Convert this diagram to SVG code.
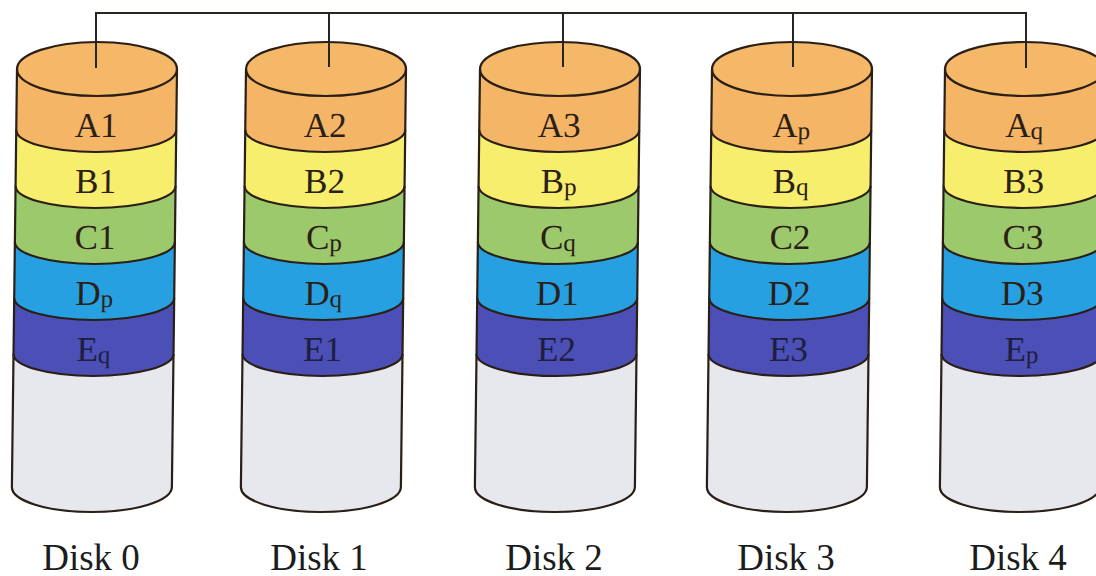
<svg xmlns="http://www.w3.org/2000/svg" xmlns:xlink="http://www.w3.org/1999/xlink" width="1096" height="576" viewBox="0 0 1096 576">
  <style>
    .edge { fill: none; stroke: #2a1f16; stroke-width: 2.2; stroke-linejoin: round; }
    .wire { fill: none; stroke: #2a2420; stroke-width: 2; }
    .lbl { font-family: "Liberation Serif", "Times New Roman", serif; font-size: 35px; fill: #2b2016; text-anchor: middle; }
    .lbl.dark { fill: #1e1e40; }
    .sub { font-size: 25px; }
    .name { font-family: "Liberation Serif", "Times New Roman", serif; font-size: 37px; fill: #1c1c1c; text-anchor: middle; }
  </style>
  <defs>
    <!-- one striped cylinder, origin at the centre of the top face -->
    <g id="cyl">
      <!-- bands, drawn bottom-up so each one overlaps the next -->
      <path d="M-80,285 L-80,418 A80,25 0 0 0 80,418 L80,285 Z" fill="#e7e7ee"/>
      <path d="M-80,229 L-80,285 A80,22 0 0 0 80,285 L80,229 Z" fill="#4b4fb6"/>
      <path d="M-80,173 L-80,229 A80,22 0 0 0 80,229 L80,173 Z" fill="#27a0e2"/>
      <path d="M-80,117 L-80,173 A80,22 0 0 0 80,173 L80,117 Z" fill="#9bc96c"/>
      <path d="M-80,61 L-80,117 A80,22 0 0 0 80,117 L80,61 Z" fill="#f6ee6c"/>
      <path d="M-80,0 L-80,61 A80,22 0 0 0 80,61 L80,0 Z" fill="#f4b566"/>
      <ellipse cx="0" cy="0" rx="80" ry="27" fill="#f5b768"/>
      <!-- band boundaries -->
      <path class="edge" d="M-80,61 A80,22 0 0 0 80,61"/>
      <path class="edge" d="M-80,117 A80,22 0 0 0 80,117"/>
      <path class="edge" d="M-80,173 A80,22 0 0 0 80,173"/>
      <path class="edge" d="M-80,229 A80,22 0 0 0 80,229"/>
      <path class="edge" d="M-80,285 A80,22 0 0 0 80,285"/>
      <!-- outline -->
      <path class="edge" d="M-80,0 L-80,418 A80,25 0 0 0 80,418 L80,0"/>
      <ellipse class="edge" cx="0" cy="0" rx="80" ry="27"/>
    </g>
  </defs>

  <rect width="1096" height="576" fill="#ffffff"/>

  <g id="disk0">
    <g transform="translate(97,69) skewX(-0.7)">
      <use xlink:href="#cyl" href="#cyl"/>
      <text class="lbl" x="0" y="68">A1</text>
      <text class="lbl" x="0" y="124">B1</text>
      <text class="lbl" x="0" y="180">C1</text>
      <text class="lbl" x="0" y="236">D<tspan class="sub" dy="2">p</tspan></text>
      <text class="lbl dark" x="0" y="292">E<tspan class="sub" dy="2">q</tspan></text>
    </g>
    <text class="name" x="91" y="570">Disk 0</text>
  </g>

  <g id="disk1">
    <g transform="translate(326,69) skewX(-0.7)">
      <use xlink:href="#cyl" href="#cyl"/>
      <text class="lbl" x="0" y="68">A2</text>
      <text class="lbl" x="0" y="124">B2</text>
      <text class="lbl" x="0" y="180">C<tspan class="sub" dy="2">p</tspan></text>
      <text class="lbl" x="0" y="236">D<tspan class="sub" dy="2">q</tspan></text>
      <text class="lbl dark" x="0" y="292">E1</text>
    </g>
    <text class="name" x="319" y="570">Disk 1</text>
  </g>

  <g id="disk2">
    <g transform="translate(560,69) skewX(-0.7)">
      <use xlink:href="#cyl" href="#cyl"/>
      <text class="lbl" x="0" y="68">A3</text>
      <text class="lbl" x="0" y="124">B<tspan class="sub" dy="2">p</tspan></text>
      <text class="lbl" x="0" y="180">C<tspan class="sub" dy="2">q</tspan></text>
      <text class="lbl" x="0" y="236">D1</text>
      <text class="lbl dark" x="0" y="292">E2</text>
    </g>
    <text class="name" x="554" y="570">Disk 2</text>
  </g>

  <g id="disk3">
    <g transform="translate(792,69) skewX(-0.7)">
      <use xlink:href="#cyl" href="#cyl"/>
      <text class="lbl" x="0" y="68">A<tspan class="sub" dy="2">p</tspan></text>
      <text class="lbl" x="0" y="124">B<tspan class="sub" dy="2">q</tspan></text>
      <text class="lbl" x="0" y="180">C2</text>
      <text class="lbl" x="0" y="236">D2</text>
      <text class="lbl dark" x="0" y="292">E3</text>
    </g>
    <text class="name" x="786" y="570">Disk 3</text>
  </g>

  <g id="disk4">
    <g transform="translate(1025,69) skewX(-0.7)">
      <use xlink:href="#cyl" href="#cyl"/>
      <text class="lbl" x="0" y="68">A<tspan class="sub" dy="2">q</tspan></text>
      <text class="lbl" x="0" y="124">B3</text>
      <text class="lbl" x="0" y="180">C3</text>
      <text class="lbl" x="0" y="236">D3</text>
      <text class="lbl dark" x="0" y="292">E<tspan class="sub" dy="2">p</tspan></text>
    </g>
    <text class="name" x="1018" y="570">Disk 4</text>
  </g>

  <!-- shared bus to every disk -->
  <g id="connectors">
    <path class="wire" d="M96,68 V13 H1026 V68"/>
    <path class="wire" d="M329,13 V67"/>
    <path class="wire" d="M563,13 V67"/>
    <path class="wire" d="M793,13 V67"/>
  </g>
</svg>
